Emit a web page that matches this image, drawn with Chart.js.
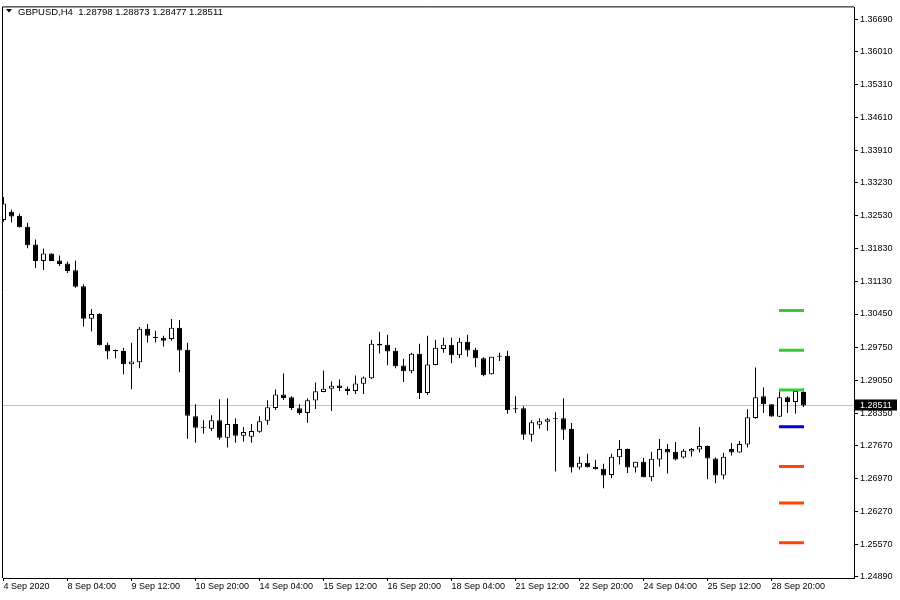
<!DOCTYPE html>
<html>
<head>
<meta charset="utf-8">
<script src="https://cdn.jsdelivr.net/npm/chart.js@4.4.1/dist/chart.umd.min.js"></script>
<style>
  html, body { margin: 0; padding: 0; background: #fff; }
  canvas { display: block; }
</style>
</head>
<body>
<canvas id="candleChart" width="900" height="600"></canvas>
<script>
// GBPUSD H4 candles
const symbol = 'GBPUSD';
const timeframe = 'H4';

const opens = [1.32442,1.32617,1.32533,1.32301,1.31923,1.31572,1.31734,1.31586,1.31523,1.31376,
  1.31040,1.30351,1.30451,1.29799,1.29672,1.29666,1.29384,1.29426,1.30135,1.29946,
  1.29946,1.29918,1.30156,1.29693,1.28285,1.28032,1.28017,1.28200,1.27828,1.28116,
  1.27870,1.27849,1.27954,1.28185,1.28459,1.28741,1.28684,1.28453,1.28354,1.28615,
  1.28795,1.28867,1.28936,1.28873,1.28816,1.28972,1.29090,1.29820,1.29799,1.29672,
  1.29357,1.29237,1.29609,1.28774,1.29371,1.29708,1.29799,1.29573,1.29862,1.29693,
  1.29510,1.29174,1.29546,1.29567,1.28438,1.28453,1.27891,1.28101,1.28164,1.28227,
  1.28242,1.28011,1.27197,1.27296,1.27212,1.27170,1.27037,1.27415,1.27591,1.27197,
  1.27317,1.26987,1.27365,1.27591,1.27528,1.27407,1.27534,1.27576,1.27654,1.27386,
  1.27029,1.27591,1.27513,1.27682,1.28248,1.28705,1.28537,1.28270,1.28684,1.28585,
  1.28798];
const highs = [1.32932,1.32659,1.32575,1.32385,1.32028,1.31839,1.31740,1.31692,1.31565,1.31586,
  1.31082,1.30556,1.30466,1.29847,1.29699,1.29735,1.29841,1.30177,1.30240,1.30093,
  1.29988,1.30345,1.30324,1.29841,1.28537,1.28200,1.28306,1.28642,1.28663,1.28242,
  1.28053,1.28116,1.28285,1.28621,1.28852,1.29189,1.28705,1.28537,1.28663,1.29000,
  1.29252,1.29021,1.29063,1.28915,1.29147,1.29126,1.29904,1.30072,1.30009,1.29735,
  1.29504,1.29630,1.29820,1.29988,1.29904,1.29946,1.29946,1.29946,1.30009,1.29735,
  1.29531,1.29546,1.29630,1.29672,1.28705,1.28495,1.28200,1.28242,1.28248,1.28369,
  1.28663,1.28137,1.27422,1.27486,1.27359,1.27275,1.27486,1.27780,1.27600,1.27320,
  1.27401,1.27528,1.27801,1.27696,1.27738,1.27591,1.27612,1.28053,1.27660,1.27407,
  1.27507,1.27717,1.27759,1.28432,1.29315,1.28894,1.28540,1.28810,1.28705,1.28852,
  1.28873];
const lows = [1.32406,1.32391,1.32283,1.31845,1.31424,1.31382,1.31572,1.31466,1.31319,1.31004,
  1.30183,1.30078,1.29784,1.29489,1.29510,1.29174,1.28853,1.29300,1.29847,1.29847,
  1.29763,1.29883,1.29216,1.27807,1.27723,1.27912,1.27969,1.27786,1.27618,1.27723,
  1.27744,1.27723,1.27933,1.28101,1.28417,1.28627,1.28417,1.28312,1.28143,1.28438,
  1.28790,1.28396,1.28816,1.28733,1.28754,1.28754,1.29069,1.29615,1.29363,1.29300,
  1.29006,1.29195,1.28648,1.28733,1.29365,1.29630,1.29405,1.29518,1.29550,1.29321,
  1.29132,1.29170,1.29453,1.28333,1.28354,1.27786,1.27744,1.28017,1.27975,1.27113,
  1.27786,1.27092,1.27155,1.27197,1.27155,1.26756,1.26966,1.27260,1.27080,1.27092,
  1.26987,1.26903,1.27218,1.27071,1.27346,1.27386,1.27428,1.27513,1.26945,1.26861,
  1.26945,1.27450,1.27510,1.27619,1.28227,1.28354,1.28270,1.28265,1.28354,1.28333,
  1.28477];
const closes = [1.32791,1.32518,1.32290,1.31908,1.31572,1.31734,1.31572,1.31508,1.31361,1.31025,
  1.30351,1.30451,1.29790,1.29657,1.29666,1.29384,1.29441,1.30135,1.29988,1.29940,
  1.29883,1.30156,1.29678,1.28291,1.28038,1.28026,1.28200,1.27828,1.28116,1.27870,
  1.27948,1.27969,1.28179,1.28474,1.28741,1.28669,1.28459,1.28354,1.28621,1.28810,
  1.28867,1.28929,1.28880,1.28816,1.28978,1.29105,1.29820,1.29784,1.29657,1.29342,
  1.29237,1.29609,1.28774,1.29378,1.29735,1.29799,1.29573,1.29862,1.29678,1.29510,
  1.29153,1.29546,1.29557,1.28417,1.28432,1.27891,1.28158,1.28179,1.28221,1.28221,
  1.27996,1.27197,1.27296,1.27200,1.27158,1.27029,1.27422,1.27591,1.27197,1.27317,
  1.26990,1.27380,1.27591,1.27513,1.27365,1.27549,1.27591,1.27654,1.27386,1.27029,
  1.27422,1.27513,1.27696,1.28264,1.28684,1.28537,1.28275,1.28684,1.28585,1.28820,
  1.28511];

// pivot levels drawn over the last candles
const pivotNames = ['R3', 'R2', 'R1', 'PP', 'S1', 'S2', 'S3'];
const pivotLevels = [1.30522, 1.29681, 1.28840, 1.28061, 1.27220, 1.26442, 1.25601];
const pivotFrom = 97;
const pivotTo = 100;

// axis ticks
const xTickIndex = [0, 8, 16, 24, 32, 40, 48, 56, 64, 72, 80, 88, 96];
const xTickLabels = ['4 Sep 2020', '8 Sep 04:00', '9 Sep 12:00', '10 Sep 20:00', '14 Sep 04:00',
  '15 Sep 12:00', '16 Sep 20:00', '18 Sep 04:00', '21 Sep 12:00', '22 Sep 20:00',
  '24 Sep 04:00', '25 Sep 12:00', '28 Sep 20:00'];
const yTickLabels = ['1.36690', '1.36010', '1.35310', '1.34610', '1.33910', '1.33230', '1.32530',
  '1.31830', '1.31130', '1.30450', '1.29750', '1.29050', '1.28350', '1.27670', '1.26970',
  '1.26270', '1.25570', '1.24890'];

const font = '"Liberation Sans", Arial, sans-serif';
Chart.defaults.font.family = font;
Chart.defaults.font.size = 9;
Chart.defaults.color = '#000';

const pivotColor = name => name === 'PP' ? '#0000e6' : (name[0] === 'R' ? '#32cd32' : '#ff4500');
const last = closes.length - 1;

const wicks = lows.map((l, i) => ({ x: i, y: [l, highs[i]] }));
const bodies = opens.map((o, i) => ({ x: i, y: [o, closes[i]] }));
const bodyFill = opens.map((o, i) => closes[i] > o ? '#ffffff' : '#000000');

const pivotSets = pivotLevels.map((lvl, k) => ({
  type: 'line',
  label: pivotNames[k],
  data: [{ x: pivotFrom - 0.06, y: lvl }, { x: pivotTo + 0.06, y: lvl }],
  borderColor: pivotColor(pivotNames[k]),
  borderWidth: 3,
  pointRadius: 0,
  order: 0
}));

// frame, bid line, header and price tag
const terminalLook = {
  id: 'terminalLook',
  beforeDatasetsDraw(chart) {
    const { ctx, chartArea: a, scales: { y } } = chart;
    const py = Math.round(y.getPixelForValue(closes[last])) + 0.5;
    ctx.save();
    ctx.strokeStyle = '#c0c0c0';
    ctx.lineWidth = 1;
    ctx.beginPath();
    ctx.moveTo(a.left, py);
    ctx.lineTo(a.right, py);
    ctx.stroke();
    ctx.restore();
  },
  afterDraw(chart) {
    const { ctx, chartArea: a, scales: { y } } = chart;
    ctx.save();
    ctx.strokeStyle = '#000';
    ctx.lineWidth = 1;
    ctx.beginPath();
    ctx.moveTo(a.left - 0.5, a.bottom);
    ctx.lineTo(a.left - 0.5, a.top - 0.5);
    ctx.lineTo(a.right, a.top - 0.5);
    ctx.stroke();

    // header
    ctx.fillStyle = '#000';
    ctx.beginPath();
    ctx.moveTo(6, 9);
    ctx.lineTo(12, 9);
    ctx.lineTo(9, 12.5);
    ctx.closePath();
    ctx.fill();
    ctx.font = '9.5px ' + font;
    ctx.textBaseline = 'alphabetic';
    ctx.textAlign = 'left';
    const head = symbol + ',' + timeframe + '  ' +
      [opens[last], highs[last], lows[last], closes[last]].map(v => v.toFixed(5)).join(' ');
    ctx.fillText(head, 18, 14.5);

    // current price tag
    const py = y.getPixelForValue(closes[last]);
    ctx.fillStyle = '#000';
    ctx.fillRect(a.right + 1, Math.round(py) - 5.5, 42, 11);
    ctx.fillStyle = '#fff';
    ctx.font = '9px ' + font;
    ctx.textBaseline = 'middle';
    ctx.fillText(closes[last].toFixed(5), a.right + 6, py + 0.5);
    ctx.restore();
  }
};

new Chart(document.getElementById('candleChart'), {
  type: 'bar',
  data: {
    datasets: [
      ...pivotSets,
      {
        label: 'body',
        data: bodies,
        backgroundColor: bodyFill,
        borderColor: '#000',
        borderWidth: 1,
        borderSkipped: false,
        barThickness: 5,
        minBarLength: 1,
        inflateAmount: 0,
        grouped: false,
        order: 1
      },
      {
        label: 'wick',
        data: wicks,
        backgroundColor: '#000',
        borderWidth: 0,
        barThickness: 1,
        inflateAmount: 0,
        grouped: false,
        order: 2
      }
    ]
  },
  options: {
    responsive: false,
    animation: false,
    devicePixelRatio: 1,
    layout: { padding: { top: 3, left: 3, right: 0, bottom: 0 } },
    plugins: { legend: { display: false }, tooltip: { enabled: false } },
    scales: {
      x: {
        type: 'linear',
        offset: false,
        min: -0.0625,
        max: 106.3125,
        grid: { drawOnChartArea: false, offset: false, tickLength: 3, color: '#000' },
        border: { display: true, color: '#000' },
        ticks: {
          align: 'start',
          maxRotation: 0,
          autoSkip: false,
          padding: 0.5,
          callback: v => xTickLabels[xTickIndex.indexOf(v)]
        },
        afterBuildTicks: s => { s.ticks = xTickIndex.map(v => ({ value: v })); },
        afterFit: s => { s.height = 22; }
      },
      y: {
        position: 'right',
        beginAtZero: false,
        min: 1.24854,
        max: 1.36949,
        grid: { drawOnChartArea: false, tickLength: 4, color: '#000' },
        border: { display: true, color: '#000' },
        ticks: {
          padding: 2,
          callback: v => v.toFixed(5)
        },
        afterBuildTicks: s => { s.ticks = yTickLabels.map(t => ({ value: parseFloat(t) })); },
        afterFit: s => { s.width = 46; }
      }
    }
  },
  plugins: [terminalLook]
});
</script>
</body>
</html>
